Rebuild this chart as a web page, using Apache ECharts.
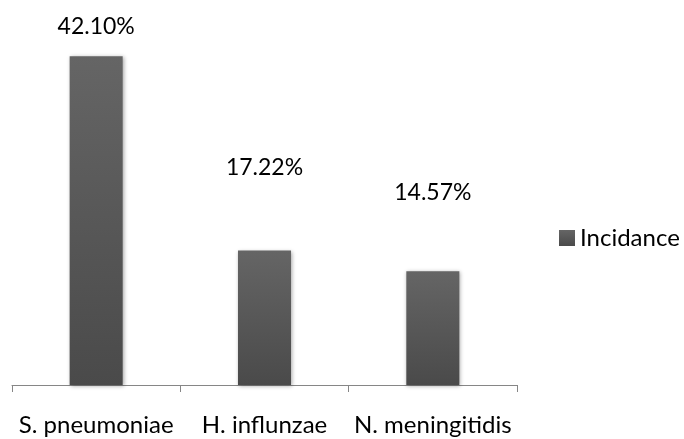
<!DOCTYPE html>
<html>
<head>
<meta charset="utf-8">
<script src="https://cdn.jsdelivr.net/npm/echarts@6/dist/echarts.min.js"></script>
<style>html,body{margin:0;padding:0;background:#fff;}#c{width:684px;height:439px;}</style>
</head>
<body>
<div id="c"></div>
<script>
var categories = ['S. pneumoniae', 'H. influnzae', 'N. meningitidis'];
var incidence = [42.10, 17.22, 14.57];
var seriesName = 'Incidance';

// label placement (style, not data)
var labelDistances = [18, 71, 67];
var FONT = 'Lato';

var chart = echarts.init(document.getElementById('c'));
var barColor = new echarts.graphic.LinearGradient(0, 0, 0, 1, [
  {offset: 0, color: '#656565'},
  {offset: 1, color: '#4a4a4a'}
]);
chart.setOption({
  animation: false,
  backgroundColor: '#fff',
  grid: {left: 12, right: 167, top: 18, bottom: 54, containLabel: false},
  legend: {
    data: [seriesName],
    left: 559, top: 226, padding: 0,
    icon: 'rect', itemWidth: 16, itemHeight: 16, itemGap: 5,
    textStyle: {fontFamily: FONT, fontSize: 24, color: '#000'}
  },
  xAxis: {
    type: 'category',
    data: categories,
    axisLine: {lineStyle: {color: '#868686', width: 1}},
    axisTick: {show: true, length: 7, lineStyle: {color: '#868686'}},
    axisLabel: {fontFamily: FONT, fontSize: 24, color: '#000', margin: 28, interval: 0}
  },
  yAxis: {
    type: 'value', min: 0, max: 47, show: false,
    splitLine: {show: false}
  },
  series: [{
    name: seriesName,
    type: 'bar',
    barWidth: '31.5%',
    itemStyle: {color: barColor, shadowColor: 'rgba(0,0,0,0.35)', shadowBlur: 4, shadowOffsetX: 1, shadowOffsetY: 1},
    data: incidence.map(function (v, i) {
      return {
        value: v,
        label: {show: true, position: 'top', distance: labelDistances[i],
          formatter: v.toFixed(2) + '%',
          fontFamily: FONT, fontSize: 23, color: '#000'}
      };
    })
  }]
});
</script>
</body>
</html>
